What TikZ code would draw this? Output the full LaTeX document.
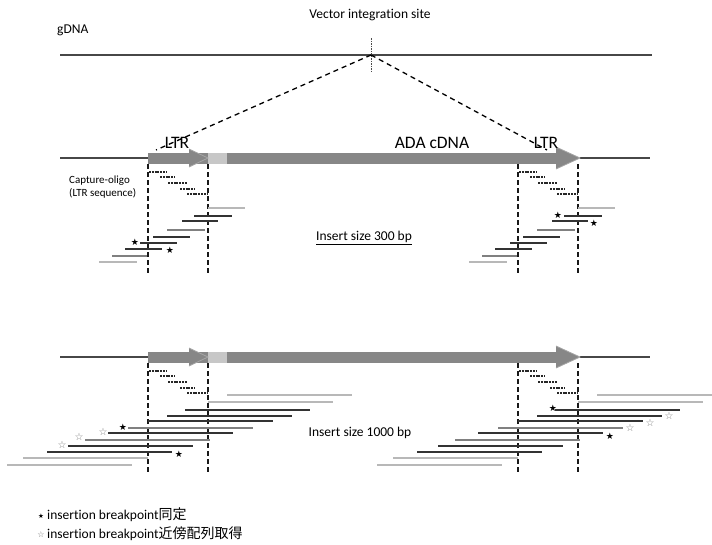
\documentclass[tikz,border=0pt]{standalone}
\usepackage{fontspec}
\setmainfont{Carlito}[Ligatures=NoCommon]
\newfontfamily\cjk{Noto Sans CJK JP}
\newfontfamily\symf{DejaVu Sans}
\begin{document}
\begin{tikzpicture}[x=1pt,y=-1pt,
  lbl/.style={inner sep=0pt, font=\fontsize{13.5}{15}\selectfont},
  big/.style={inner sep=0pt, font=\fontsize{17.5}{19}\selectfont},
  small/.style={inner sep=0pt, font=\fontsize{11}{13}\selectfont, align=left},
  dna/.style={line width=1.4pt, black!72},
  rdk/.style={line width=1.9pt, black!80},
  rgy/.style={line width=1.7pt, black!50},
  rlt/.style={line width=1.3pt, black!28},
  oligo/.style={line width=2pt, black!85, dash pattern=on 2pt off 0.8pt},
  vdash/.style={line width=1.6pt, black!90, dash pattern=on 4.5pt off 3.5pt},
  idash/.style={line width=1.3pt, black, dash pattern=on 5pt off 4pt},
  bar/.style={fill=black!47},
  patch/.style={fill=black!22},
  bstar/.style={inner sep=0pt, text=black, font=\symf\fontsize{9}{9}\selectfont},
  lstar/.style={inner sep=0pt, text=black!50, font=\symf\fontsize{10}{10}\selectfont},
  ins/.style={inner sep=0pt, font=\fontsize{13.5}{15}\selectfont}
]
\useasboundingbox (0,0) rectangle (712,544);

% gDNA and integration site
\node[lbl] (vis) at (370,15) {Vector integration site};
\node[lbl, anchor=west] (gdna) at (57,30) {gDNA};
\coordinate (g1) at (60,55);
\coordinate (g2) at (652,55);
\draw[dna] (g1) -- (g2);
\coordinate (site) at (371,55);
\draw[line width=1pt, black!70, dash pattern=on 1.5pt off 1pt] (371,38) -- (371,72);
\coordinate (ltrL) at (156,150);
\coordinate (ltrR) at (547,150);
\draw[idash] (site) -- (ltrL);
\draw[idash] (site) -- (ltrR);

% vector constructs at two levels
\foreach \Y in {158,357}{
  \draw[dna] (60,\Y) -- (148,\Y);
  \draw[dna] (580,\Y) -- (650,\Y);
  \fill[bar] (148,\Y-5.5) rectangle (557,\Y+5.5);
  \fill[bar] (189,\Y-9) -- (208,\Y) -- (189,\Y+9) -- cycle;
  \fill[patch] (208,\Y-5.5) rectangle (227,\Y+5.5);
  \fill[bar] (556,\Y-11) -- (580,\Y) -- (556,\Y+11) -- cycle;
  \draw[black!35, line width=0.8pt] (189,\Y-9) -- (208,\Y) -- (189,\Y+9);
  \draw[black!35, line width=0.8pt] (556,\Y-11) -- (580,\Y) -- (556,\Y+11);
  % capture oligos
  \foreach \a/\b/\d in {149/167/14, 160/175/19, 168/187/25, 180/195/31, 187/207/36}{
    \draw[oligo] (\a,\Y+\d) -- (\b,\Y+\d);
    \draw[oligo] (\a+370,\Y+\d) -- (\b+370,\Y+\d);
  }
}
% vertical dashed lines
\foreach \x in {148,208,518,578}{
  \draw[vdash] (\x,164) -- (\x,276);
  \draw[vdash] (\x,363) -- (\x,473);
}

\node[big] (ltr1) at (177,143) {LTR};
\node[big] (ada) at (432,143) {ADA cDNA};
\node[big] (ltr2) at (546,143) {LTR};
\node[small, anchor=west] (cap) at (69,187) {Capture-oligo\\(LTR sequence)};

% top reads (300 bp)
\foreach \a/\b/\y/\s in {208/245/208/rlt, 194/232/216/rdk, 182/218/221/rdk, 167/205/230/rgy,
  153/190/237/rdk, 140/177/243/rdk, 125/162/249/rdk, 112/147/256/rgy, 99/137/262/rlt}{
  \draw[\s] (\a,\y) -- (\b,\y);
  \draw[\s] (\a+370,\y) -- (\b+370,\y);
}
\node[bstar] (s1) at (135,242) {★};
\node[bstar] (s2) at (170,250) {★};
\node[bstar] (s3) at (558,215) {★};
\node[bstar] (s4) at (594,223) {★};
\node[ins] (ins1) at (364,238) {\underline{Insert size 300 bp}};

% bottom reads (1000 bp)
\foreach \a/\y/\s in {227/395/rlt, 208/402/rlt, 185/410/rdk, 167/416/rdk, 148/421/rdk, 128/428/rgy,
  108/433/rdk, 85/440/rgy, 68/446/rdk, 47/452/rdk, 23/458/rlt, 7/465/rlt}{
  \draw[\s] (\a,\y) -- (\a+125,\y);
  \draw[\s] (\a+370,\y) -- ({min(\a+495,712)},\y);
}
\node[bstar] (b1) at (123,427) {★};
\node[lstar] (b2) at (103,432) {☆};
\node[lstar] (b3) at (79,437) {☆};
\node[lstar] (b4) at (62,445) {☆};
\node[bstar] (b5) at (179,454) {★};
\node[bstar] (b6) at (553,408) {★};
\node[lstar] (b7) at (669,416) {☆};
\node[lstar] (b8) at (650,423) {☆};
\node[lstar] (b9) at (630,428) {☆};
\node[bstar] (b10) at (610,436) {★};
\node[ins] (ins2) at (360,433) {Insert size 1000 bp};

% legend
\node[inner sep=0pt, text=black, font=\symf\fontsize{6.5}{6.5}\selectfont] (ls1) at (41,516) {★};
\node[inner sep=0pt, anchor=west, font=\fontsize{13.5}{15}\selectfont] (lt1) at (47,515) {insertion breakpoint{\cjk\fontsize{14}{15}\selectfont 同定}};
\node[inner sep=0pt, text=black!55, font=\symf\fontsize{8}{8}\selectfont] (ls2) at (41,535) {☆};
\node[inner sep=0pt, anchor=west, font=\fontsize{13.5}{15}\selectfont] (lt2) at (47,534) {insertion breakpoint{\cjk\fontsize{14}{15}\selectfont 近傍配列取得}};
\end{tikzpicture}
\end{document}
